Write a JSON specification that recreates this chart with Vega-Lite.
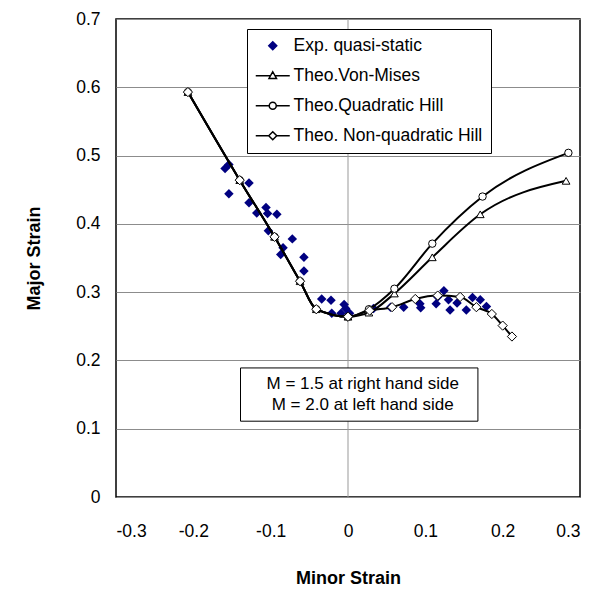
{
  "$schema": "https://vega.github.io/schema/vega-lite/v6.json",
  "width": 464,
  "height": 478,
  "autosize": "none",
  "padding": {"left": 116, "top": 19, "right": 27, "bottom": 94},
  "background": "white",
  "config": {
    "view": {"stroke": "#000", "strokeWidth": 1.5},
    "font": "Liberation Sans"
  },
  "datasets": {
    "theo": [
      {"series": "Theo.Von-Mises", "x": -0.207, "y": 0.593},
      {"series": "Theo.Von-Mises", "x": -0.140, "y": 0.464},
      {"series": "Theo.Von-Mises", "x": -0.095, "y": 0.381},
      {"series": "Theo.Von-Mises", "x": -0.062, "y": 0.316},
      {"series": "Theo.Von-Mises", "x": -0.041, "y": 0.275},
      {"series": "Theo.Von-Mises", "x": 0.000, "y": 0.264},
      {"series": "Theo.Von-Mises", "x": 0.027, "y": 0.270},
      {"series": "Theo.Von-Mises", "x": 0.060, "y": 0.298},
      {"series": "Theo.Von-Mises", "x": 0.109, "y": 0.351},
      {"series": "Theo.Von-Mises", "x": 0.171, "y": 0.414},
      {"series": "Theo.Von-Mises", "x": 0.282, "y": 0.463},
      {"series": "Theo.Quadratic Hill", "x": -0.207, "y": 0.593},
      {"series": "Theo.Quadratic Hill", "x": -0.140, "y": 0.464},
      {"series": "Theo.Quadratic Hill", "x": -0.095, "y": 0.381},
      {"series": "Theo.Quadratic Hill", "x": -0.062, "y": 0.316},
      {"series": "Theo.Quadratic Hill", "x": -0.041, "y": 0.275},
      {"series": "Theo.Quadratic Hill", "x": 0.000, "y": 0.264},
      {"series": "Theo.Quadratic Hill", "x": 0.027, "y": 0.275},
      {"series": "Theo.Quadratic Hill", "x": 0.060, "y": 0.305},
      {"series": "Theo.Quadratic Hill", "x": 0.109, "y": 0.371},
      {"series": "Theo.Quadratic Hill", "x": 0.174, "y": 0.440},
      {"series": "Theo.Quadratic Hill", "x": 0.285, "y": 0.504},
      {"series": "Theo. Non-quadratic Hill", "x": -0.207, "y": 0.593},
      {"series": "Theo. Non-quadratic Hill", "x": -0.140, "y": 0.464},
      {"series": "Theo. Non-quadratic Hill", "x": -0.095, "y": 0.381},
      {"series": "Theo. Non-quadratic Hill", "x": -0.062, "y": 0.316},
      {"series": "Theo. Non-quadratic Hill", "x": -0.041, "y": 0.275},
      {"series": "Theo. Non-quadratic Hill", "x": 0.000, "y": 0.264},
      {"series": "Theo. Non-quadratic Hill", "x": 0.028, "y": 0.273},
      {"series": "Theo. Non-quadratic Hill", "x": 0.057, "y": 0.278},
      {"series": "Theo. Non-quadratic Hill", "x": 0.087, "y": 0.290},
      {"series": "Theo. Non-quadratic Hill", "x": 0.116, "y": 0.295},
      {"series": "Theo. Non-quadratic Hill", "x": 0.145, "y": 0.293},
      {"series": "Theo. Non-quadratic Hill", "x": 0.166, "y": 0.278},
      {"series": "Theo. Non-quadratic Hill", "x": 0.186, "y": 0.268},
      {"series": "Theo. Non-quadratic Hill", "x": 0.200, "y": 0.251},
      {"series": "Theo. Non-quadratic Hill", "x": 0.212, "y": 0.235}
    ],
    "exp": [
      {"x": -0.159, "y": 0.481}, {"x": -0.154, "y": 0.487}, {"x": -0.154, "y": 0.444},
      {"x": -0.128, "y": 0.460}, {"x": -0.128, "y": 0.431}, {"x": -0.118, "y": 0.416},
      {"x": -0.106, "y": 0.424}, {"x": -0.104, "y": 0.415}, {"x": -0.092, "y": 0.414},
      {"x": -0.103, "y": 0.390}, {"x": -0.072, "y": 0.378}, {"x": -0.084, "y": 0.365},
      {"x": -0.087, "y": 0.355}, {"x": -0.057, "y": 0.351}, {"x": -0.057, "y": 0.331},
      {"x": -0.034, "y": 0.290}, {"x": -0.022, "y": 0.288}, {"x": -0.021, "y": 0.269},
      {"x": -0.009, "y": 0.269}, {"x": -0.005, "y": 0.282}, {"x": -0.003, "y": 0.276},
      {"x": 0.002, "y": 0.269}, {"x": 0.033, "y": 0.276}, {"x": 0.055, "y": 0.278},
      {"x": 0.072, "y": 0.278}, {"x": 0.093, "y": 0.283}, {"x": 0.094, "y": 0.277},
      {"x": 0.114, "y": 0.283}, {"x": 0.116, "y": 0.293}, {"x": 0.124, "y": 0.302},
      {"x": 0.130, "y": 0.289}, {"x": 0.132, "y": 0.274}, {"x": 0.141, "y": 0.284},
      {"x": 0.153, "y": 0.274}, {"x": 0.161, "y": 0.292}, {"x": 0.171, "y": 0.289},
      {"x": 0.179, "y": 0.279}
    ],
    "legend": [
      {"series": "Exp. quasi-static"},
      {"series": "Theo.Von-Mises"},
      {"series": "Theo.Quadratic Hill"},
      {"series": "Theo. Non-quadratic Hill"}
    ],
    "note": [
      {"line": "M = 1.5 at right hand side", "x": 0.019, "y": 0.165},
      {"line": "M = 2.0 at left hand side", "x": 0.019, "y": 0.134}
    ],
    "box": [
      {"x1": -0.139, "x2": 0.168, "y1": 0.189, "y2": 0.111}
    ]
  },
  "layer": [
    {
      "data": {"values": [{"zero": 0}]},
      "mark": {"type": "rule", "color": "#999999", "strokeWidth": 1},
      "encoding": {"x": {"field": "zero", "type": "quantitative"}}
    },
    {
      "data": {"name": "box"},
      "mark": {"type": "rect", "fill": "white", "stroke": "black", "strokeWidth": 1},
      "encoding": {
        "x": {"field": "x1", "type": "quantitative"},
        "x2": {"field": "x2"},
        "y": {"field": "y1", "type": "quantitative"},
        "y2": {"field": "y2"}
      }
    },
    {
      "data": {"name": "note"},
      "mark": {"type": "text", "fontSize": 17, "font": "Liberation Sans", "color": "black", "align": "center", "baseline": "middle"},
      "encoding": {
        "x": {"field": "x", "type": "quantitative"},
        "y": {"field": "y", "type": "quantitative"},
        "text": {"field": "line"}
      }
    },
    {
      "data": {"name": "exp"},
      "mark": {"type": "point", "shape": "diamond", "filled": true, "color": "#000080", "size": 90, "opacity": 1},
      "encoding": {
        "x": {"field": "x", "type": "quantitative"},
        "y": {"field": "y", "type": "quantitative"}
      }
    },
    {
      "data": {"name": "theo"},
      "mark": {"type": "line", "interpolate": "monotone", "color": "black", "strokeWidth": 2},
      "encoding": {
        "x": {
          "field": "x", "type": "quantitative",
          "scale": {"domain": [-0.3, 0.3], "nice": false, "zero": false},
          "axis": {
            "values": [-0.3, -0.2, -0.1, 0, 0.1, 0.2, 0.3],
            "labelExpr": "'' + round(datum.value * 10) / 10",
            "grid": false, "ticks": false, "domain": false,
            "labelFont": "Liberation Sans", "labelFontSize": 17.5, "labelColor": "black",
            "labelPadding": 25,
            "title": "Minor Strain", "titleFont": "Liberation Sans", "titleFontSize": 18,
            "titleFontWeight": "bold", "titleColor": "black", "titlePadding": 30
          }
        },
        "y": {
          "field": "y", "type": "quantitative",
          "scale": {"domain": [0, 0.7], "nice": false, "zero": false},
          "axis": {
            "values": [0, 0.1, 0.2, 0.3, 0.4, 0.5, 0.6, 0.7],
            "labelExpr": "'' + round(datum.value * 10) / 10",
            "grid": true, "gridColor": "#8c8c8c", "gridWidth": 1,
            "ticks": false, "domain": false,
            "labelFont": "Liberation Sans", "labelFontSize": 17.5, "labelColor": "black",
            "labelPadding": 16,
            "title": "Major Strain", "titleFont": "Liberation Sans", "titleFontSize": 18,
            "titleFontWeight": "bold", "titleColor": "black", "titlePadding": 32
          }
        },
        "detail": {"field": "series"}
      }
    },
    {
      "data": {"name": "theo"},
      "transform": [{"filter": "datum.series == 'Theo.Von-Mises'"}],
      "mark": {"type": "point", "shape": "triangle-up", "filled": true, "fill": "white", "stroke": "black", "strokeWidth": 1, "size": 60, "opacity": 1},
      "encoding": {
        "x": {"field": "x", "type": "quantitative"},
        "y": {"field": "y", "type": "quantitative"}
      }
    },
    {
      "data": {"name": "theo"},
      "transform": [{"filter": "datum.series == 'Theo.Quadratic Hill'"}],
      "mark": {"type": "point", "shape": "circle", "filled": true, "fill": "white", "stroke": "black", "strokeWidth": 1, "size": 55, "opacity": 1},
      "encoding": {
        "x": {"field": "x", "type": "quantitative"},
        "y": {"field": "y", "type": "quantitative"}
      }
    },
    {
      "data": {"name": "theo"},
      "transform": [{"filter": "datum.series == 'Theo. Non-quadratic Hill'"}],
      "mark": {"type": "point", "shape": "diamond", "filled": true, "fill": "white", "stroke": "black", "strokeWidth": 1, "size": 85, "opacity": 1},
      "encoding": {
        "x": {"field": "x", "type": "quantitative"},
        "y": {"field": "y", "type": "quantitative"}
      }
    },
    {
      "data": {"name": "legend"},
      "mark": {"type": "point", "filled": true, "opacity": 0, "strokeWidth": 1.5},
      "encoding": {
        "shape": {
          "field": "series", "type": "nominal",
          "scale": {
            "domain": ["Exp. quasi-static", "Theo.Von-Mises", "Theo.Quadratic Hill", "Theo. Non-quadratic Hill"],
            "range": [
              "M0,-0.8L0.8,0L0,0.8L-0.8,0Z",
              "M-3.4,0H-0.44M0.44,0H3.4M0,-0.8L0.75,0.55L-0.75,0.55Z",
              "M-3.4,0H-0.7M0.7,0H3.4M0.7,0A0.7,0.7,0,1,1,-0.7,0A0.7,0.7,0,1,1,0.7,0Z",
              "M-3.4,0H-0.8M0.8,0H3.4M0,-0.8L0.8,0L0,0.8L-0.8,0Z"
            ]
          },
          "legend": {
            "title": null, "orient": "none", "legendX": 131, "legendY": 10,
            "strokeColor": "black", "fillColor": "white", "padding": 8,
            "labelFont": "Liberation Sans", "labelFontSize": 17.5, "labelColor": "black", "labelLimit": 400,
            "symbolSize": 100, "symbolStrokeWidth": 1.5, "symbolOpacity": 1,
            "rowPadding": 11, "symbolOffset": 9, "labelOffset": 12
          }
        },
        "fill": {
          "field": "series", "type": "nominal",
          "scale": {
            "domain": ["Exp. quasi-static", "Theo.Von-Mises", "Theo.Quadratic Hill", "Theo. Non-quadratic Hill"],
            "range": ["#000080", "white", "white", "white"]
          },
          "legend": {"title": null}
        },
        "stroke": {
          "field": "series", "type": "nominal",
          "scale": {
            "domain": ["Exp. quasi-static", "Theo.Von-Mises", "Theo.Quadratic Hill", "Theo. Non-quadratic Hill"],
            "range": ["#000080", "black", "black", "black"]
          },
          "legend": {"title": null}
        }
      }
    }
  ]
}
